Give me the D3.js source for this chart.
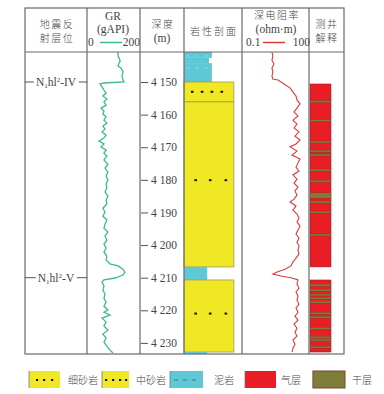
<!DOCTYPE html>
<html><head><meta charset="utf-8">
<script src="https://cdn.jsdelivr.net/npm/d3@7"></script>
<style>
body{margin:0;background:#fff;}
text{font-family:"Liberation Serif","DejaVu Serif",serif;fill:#444;}
.cjk{font-family:"Noto Sans CJK SC",sans-serif;font-weight:300;}
</style></head><body>
<svg id="c" width="384" height="394"></svg>
<script>
// ---- data ----
const depthDomain = [4140.8, 4233.4];
const depthTicks = [4150, 4160, 4170, 4180, 4190, 4200, 4210, 4220, 4230];
const horizonNames = ["IV", "V"];
const horizonDepths = [4150, 4210];

const grDepth = [4140.8,4142.0,4142.6,4143.6,4144.2,4145.1,4145.7,4146.9,4148.2,4149.4,4150.0,4150.3,4150.6,4151.5,4152.5,4153.4,4154.3,4155.2,4156.1,4157.1,4158.0,4158.9,4159.8,4160.7,4161.7,4162.6,4163.5,4164.4,4165.3,4166.3,4167.2,4168.1,4169.0,4169.9,4170.9,4171.8,4172.7,4173.9,4175.2,4176.4,4177.6,4178.8,4180.1,4181.3,4182.5,4183.7,4185.0,4186.2,4187.4,4188.7,4189.9,4191.1,4192.3,4193.6,4194.8,4196.0,4197.2,4198.5,4199.7,4200.9,4202.1,4203.4,4204.6,4205.8,4206.4,4207.4,4208.3,4209.2,4210.1,4210.7,4211.3,4212.6,4213.8,4215.0,4216.3,4217.5,4218.7,4219.9,4220.6,4221.5,4222.4,4223.6,4224.8,4226.1,4227.3,4228.5,4229.8,4231.0,4232.2,4233.1];
const grValue = [117,117,121,125,121,117,128,136,132,136,140,64,49,57,64,72,60,75,64,72,53,64,60,72,64,75,60,68,57,72,64,45,64,53,72,64,75,64,79,68,79,72,79,72,75,68,79,72,75,60,68,60,75,68,64,79,68,75,64,72,64,75,72,87,117,136,143,136,106,64,57,64,60,68,64,72,64,79,64,87,57,72,64,79,60,72,64,75,87,98];

const rtDepth = [4140.8,4142.0,4143.3,4144.5,4145.7,4146.9,4148.2,4149.1,4149.4,4150.6,4151.8,4153.1,4154.3,4155.5,4156.7,4158.0,4159.2,4160.4,4161.7,4162.9,4164.1,4165.3,4166.6,4167.8,4169.0,4169.9,4171.2,4172.4,4173.6,4174.8,4176.1,4177.3,4178.5,4179.8,4181.0,4182.2,4183.4,4184.7,4185.9,4186.8,4188.0,4189.3,4190.5,4191.7,4192.9,4194.2,4195.4,4196.6,4197.9,4199.1,4200.3,4201.5,4202.8,4204.0,4205.2,4206.4,4207.4,4208.3,4208.9,4209.5,4210.1,4210.7,4211.9,4213.2,4214.4,4215.6,4216.9,4218.1,4219.3,4220.6,4221.8,4223.0,4224.2,4225.5,4226.7,4227.9,4229.1,4230.4,4231.6,4232.8];
const rtValue = [2.2,2.4,2.2,2.7,2.2,2.4,2.2,2.4,4.1,7.6,14.1,19.2,26.2,29.0,39.5,29.0,21.3,32.2,19.2,29.0,21.3,35.6,23.6,39.5,26.2,14.1,29.0,17.3,39.5,32.2,26.2,35.6,19.2,29.0,21.3,32.2,23.6,29.0,21.3,14.1,26.2,19.2,29.0,35.6,29.0,39.5,32.2,26.2,35.6,29.0,35.6,32.2,35.6,26.2,19.2,15.6,8.4,3.5,2.4,5.5,17.3,32.2,29.0,35.6,26.2,32.2,29.0,35.6,26.2,32.2,23.6,32.2,21.3,29.0,23.6,29.0,19.2,23.6,19.2,17.3];

// lithology intervals: top, bottom, type, grain size class (0..1 of column width)
const lithTop =    [4140.8, 4142.6, 4144.2, 4150.0, 4156.1, 4206.7, 4210.7, 4232.8];
const lithBottom = [4142.6, 4144.2, 4150.0, 4156.1, 4206.7, 4210.7, 4232.8, 4233.4];
const lithType =   ["泥岩","泥岩","泥岩","中砂岩","细砂岩","泥岩","细砂岩","泥岩"];
const lithGrain =  [0.48, 0.43, 0.48, 0.86, 0.86, 0.40, 0.86, 0.40];
const lithDotDepth = [4153.0, 4180.1, 4221.0];
const lithDotType = ["中砂岩","细砂岩","细砂岩"];

const gasTop = [4150.6, 4210.7];
const gasBottom = [4206.7, 4232.8];
const dryTop = [4155.7,4161.5,4168.1,4170.9,4172.1,4176.7,4180.1,4184.0,4186.5,4189.6,4196.6,4212.0,4213.5,4215.0,4216.0,4217.2,4220.6,4221.8,4225.2,4228.0,4228.8,4231.0];
const dryBottom = [4156.3,4162.1,4168.7,4171.5,4172.7,4177.3,4180.7,4185.6,4187.1,4190.2,4197.2,4212.6,4214.1,4215.6,4216.6,4217.8,4221.2,4222.4,4225.8,4228.6,4229.4,4231.6];

const legendNames = ["细砂岩","中砂岩","泥岩","气层","干层"];

// ---- styles ----
const C = {yellow:"#f0e824", cyan:"#5ec8d6", red:"#e81d25", olive:"#7f7d3a", gr:"#3dbb88", rt:"#dd3a3a", line:"#6a6a6a"};

const svg = d3.select("#c");
const top0 = 8, hdrB = 52, bot = 354;
const colX = [25, 87, 140, 184, 242, 309, 344];

const y = d3.scaleLinear().domain(depthDomain).range([hdrB, bot]);
const xGR = d3.scaleLinear().domain([0, 200]).range([colX[1], colX[2]]);
const xRT = d3.scaleLog().domain([0.1, 100]).range([colX[4], colX[5]]);
const xLith = d3.scaleLinear().domain([0, 1]).range([colX[3], colX[4]]);

// lithology
const lith = lithTop.map((t,i)=>({t, b:lithBottom[i], type:lithType[i], g:lithGrain[i]}));
const fillOf = t => t==="泥岩" ? C.cyan : C.yellow;
svg.append("g").selectAll("rect").data(lith).join("rect")
  .attr("x", xLith(0)).attr("y", d=>y(d.t))
  .attr("width", d=>xLith(d.g)-xLith(0)).attr("height", d=>y(d.b)-y(d.t))
  .attr("fill", d=>fillOf(d.type))
  .attr("stroke", d=>d.type==="泥岩"?"none":"#9a9a60").attr("stroke-width",0.8);
// mud dashes (top mud)
[4142.0, 4145.7].forEach(dd=>{
  [0.04,0.2,0.36].forEach(f=>{
    svg.append("line").attr("x1",xLith(f)).attr("x2",xLith(f)+3)
      .attr("y1",y(dd)).attr("y2",y(dd)).attr("stroke","#9fdde6").attr("stroke-width",0.8);
  });
});
// dots
lithDotDepth.forEach((dd,i)=>{
  const fr = lithDotType[i]==="中砂岩" ? [0.14,0.31,0.48,0.65] : [0.2,0.45,0.72];
  fr.forEach(f=>svg.append("rect").attr("x",xLith(f)-1.2).attr("y",y(dd)-1).attr("width",2.6).attr("height",2).attr("fill","#111"));
});

// interpretation
const xI0 = 310, xI1 = 331;
svg.append("g").selectAll("rect").data(gasTop.map((t,i)=>({t,b:gasBottom[i]}))).join("rect")
  .attr("x",xI0).attr("width",xI1-xI0).attr("y",d=>y(d.t)).attr("height",d=>y(d.b)-y(d.t))
  .attr("fill",C.red).attr("stroke","#a01818").attr("stroke-width",0.5);
svg.append("g").selectAll("rect").data(dryTop.map((t,i)=>({t,b:dryBottom[i]}))).join("rect")
  .attr("x",xI0).attr("width",xI1-xI0).attr("y",d=>y(d.t)).attr("height",d=>y(d.b)-y(d.t))
  .attr("fill",C.olive).attr("stroke","#6a3a2a").attr("stroke-width",0.3);

// curves
const gr = grDepth.map((d,i)=>({d, v:grValue[i]}));
svg.append("path").datum(gr).attr("fill","none").attr("stroke",C.gr).attr("stroke-width",1.3)
  .attr("d", d3.line().x(p=>xGR(p.v)).y(p=>y(p.d)));
const rt = rtDepth.map((d,i)=>({d, v:rtValue[i]}));
svg.append("path").datum(rt).attr("fill","none").attr("stroke",C.rt).attr("stroke-width",1.1)
  .attr("d", d3.line().x(p=>xRT(p.v)).y(p=>y(p.d)));

// frame
const fr = svg.append("g").attr("stroke",C.line).attr("stroke-width",1.2).attr("fill","none");
fr.append("rect").attr("x",colX[0]).attr("y",top0).attr("width",colX[6]-colX[0]).attr("height",bot-top0);
fr.append("line").attr("x1",colX[0]).attr("x2",colX[6]).attr("y1",hdrB).attr("y2",hdrB);
colX.slice(1,6).forEach(x=>fr.append("line").attr("x1",x).attr("x2",x).attr("y1",top0).attr("y2",bot));

// depth axis
const ax = svg.append("g").attr("transform",`translate(${colX[2]+1},0)`)
  .call(d3.axisRight(y).tickValues(depthTicks).tickSize(7).tickPadding(3)
    .tickFormat(d=>String(d).replace(/^(\d)(\d{3})$/,"$1 $2")));
ax.select(".domain").remove();
ax.selectAll("line").attr("stroke","#555");
ax.selectAll("text").attr("font-size",11.5).attr("fill","#444").attr("font-family","Liberation Serif, serif");

// horizons
horizonDepths.forEach((hd,i)=>{
  const yy = y(hd);
  const g = svg.append("g");
  const t = g.append("text").attr("x",56).attr("y",yy+4).attr("text-anchor","middle").attr("font-size",11.5);
  t.append("tspan").text("N");
  t.append("tspan").attr("font-size",7).attr("dy",2).text("1");
  t.append("tspan").attr("dy",-2).text("hl");
  t.append("tspan").attr("font-size",7).attr("dy",-4).text("2");
  t.append("tspan").attr("dy",4).text("-"+horizonNames[i]);
  const bb = t.node().getBBox();
  g.append("line").attr("x1",colX[0]).attr("x2",bb.x-2).attr("y1",yy).attr("y2",yy).attr("stroke","#555");
  g.append("line").attr("x1",bb.x+bb.width+2).attr("x2",colX[1]).attr("y1",yy).attr("y2",yy).attr("stroke","#555");
});

// headers
const hdr = (x,yy,s,cls,fs,ls)=>svg.append("text").attr("x",x).attr("y",yy).attr("text-anchor","middle")
  .attr("font-size",fs||11).attr("class",cls||null).attr("letter-spacing",ls||0).text(s);
hdr(57,28,"地震反","cjk",10,1.5); hdr(57,42,"射层位","cjk",10,1.5);
hdr(113,20,"GR",null,11.5); hdr(113,33,"(gAPI)",null,11.5);
svg.append("text").attr("x",88).attr("y",46).attr("font-size",11.5).text("0");
svg.append("text").attr("x",140).attr("y",46).attr("font-size",11.5).attr("text-anchor","end").text("200");
svg.append("line").attr("x1",100).attr("x2",122).attr("y1",42.5).attr("y2",42.5).attr("stroke",C.gr).attr("stroke-width",1.5);
hdr(163,28,"深度","cjk",10,1.5); hdr(162,42,"(m)",null,11.5);
hdr(214,35,"岩性剖面","cjk",10,2);
hdr(277,19,"深电阻率","cjk",10,1.5); hdr(276,33,"(ohm·m)",null,11.5);
svg.append("text").attr("x",246).attr("y",46).attr("font-size",11.5).text("0.1");
svg.append("text").attr("x",310).attr("y",46).attr("font-size",11.5).attr("text-anchor","end").text("100");
svg.append("line").attr("x1",263).attr("x2",285).attr("y1",42.5).attr("y2",42.5).attr("stroke",C.rt).attr("stroke-width",1.5);
hdr(327,28,"测井","cjk",10,1.5); hdr(327,42,"解释","cjk",10,1.5);

// legend
const lg = [
  {x:29,w:31,lx:68,fill:C.yellow,dots:[37,44,52]},
  {x:102,w:27,lx:136,fill:C.yellow,dots:[106,113,120,126]},
  {x:170,w:33,lx:214,fill:C.cyan,dash:true},
  {x:245,w:31,lx:281,fill:C.red},
  {x:313,w:32,lx:352,fill:C.olive,stroke:"#7a4a2a"}
];
lg.forEach((d,i)=>{
  svg.append("rect").attr("x",d.x).attr("y",371).attr("width",d.w).attr("height",17).attr("fill",d.fill)
    .attr("stroke",d.stroke||"none");
  svg.append("line").attr("x1",d.x).attr("x2",d.x).attr("y1",371).attr("y2",388).attr("stroke","#777").attr("stroke-width",0.8);
  (d.dots||[]).forEach(dx=>svg.append("rect").attr("x",dx-1).attr("y",379).attr("width",2.2).attr("height",2).attr("fill","#111"));
  if(d.dash) [174,183,192].forEach(dx=>svg.append("line").attr("x1",dx).attr("x2",dx+4).attr("y1",380).attr("y2",380).attr("stroke","#556").attr("stroke-width",0.8));
  svg.append("text").attr("x",d.lx).attr("y",384).attr("font-size",10).attr("class","cjk").attr("fill","#555").text(legendNames[i]);
});
</script></body></html>
